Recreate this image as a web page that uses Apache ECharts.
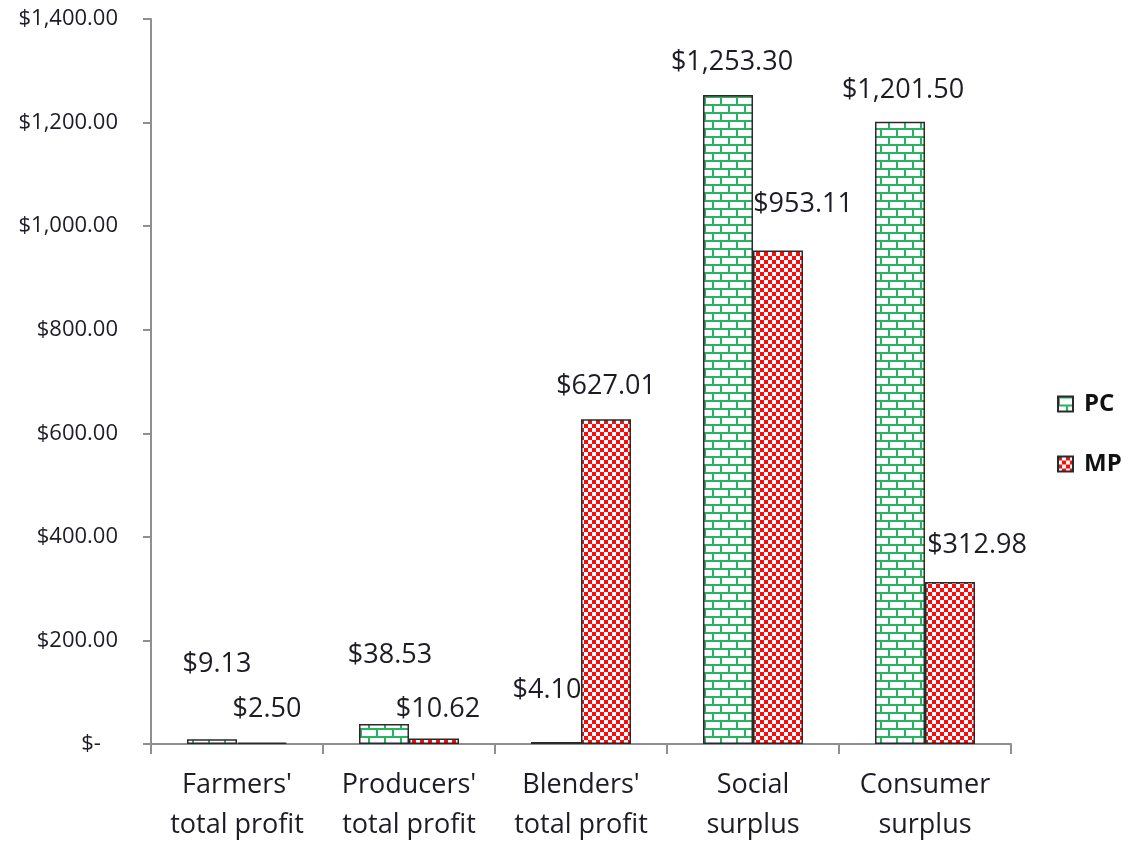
<!DOCTYPE html>
<html>
<head>
<meta charset="utf-8">
<title>PC vs MP welfare outcomes</title>
<script src="https://cdn.jsdelivr.net/npm/echarts@6/dist/echarts.min.js"></script>
<style>
  html, body { margin: 0; padding: 0; background: #fff; }
  #chart { width: 1135px; height: 845px; }
</style>
</head>
<body>
<div id="chart"></div>
<script>
// Categories and values (US dollars)
const categories = [
  "Farmers'\ntotal profit",
  "Producers'\ntotal profit",
  "Blenders'\ntotal profit",
  "Social\nsurplus",
  "Consumer\nsurplus"
];
const pcValues = [9.13, 38.53, 4.10, 1253.30, 1201.50];
const mpValues = [2.50, 10.62, 627.01, 953.11, 312.98];
const yTicks = { min: 0, max: 1400, interval: 200 };

// Hand-placed value label offsets [dx, dy] from the top centre of each bar
const pcLabelOffsets = [[5, -75], [6, -69], [-9, -52], [4, -33], [3, -31]];
const mpLabelOffsets = [[5, -33], [4, -29], [0, -33], [25, -46], [27, -37]];

const FONT = '"Open Sans", Lato, "Liberation Sans", sans-serif';
const TEXT = '#1c1c24';

// Green brick fill
function brickPattern() {
  const c = document.createElement('canvas');
  c.width = 16; c.height = 16;
  const g = c.getContext('2d');
  g.fillStyle = '#ffffff';
  g.fillRect(0, 0, 16, 16);
  g.fillStyle = '#27b35f';
  g.fillRect(0, 0, 16, 2);
  g.fillRect(0, 8, 16, 2);
  g.fillRect(0, 0, 2, 8);
  g.fillRect(8, 8, 2, 8);
  return c;
}

// Red checkerboard fill
function checkerPattern() {
  const c = document.createElement('canvas');
  c.width = 8; c.height = 8;
  const g = c.getContext('2d');
  g.fillStyle = '#ffffff';
  g.fillRect(0, 0, 8, 8);
  g.fillStyle = '#ff0a0a';
  g.fillRect(0, 0, 4, 4);
  g.fillRect(4, 4, 4, 4);
  return c;
}

function money(v) {
  return '$' + v.toLocaleString('en-US', { minimumFractionDigits: 2, maximumFractionDigits: 2 });
}

function withLabels(values, offsets) {
  return values.map((v, i) => ({ value: v, label: { offset: offsets[i] } }));
}

const barLabel = {
  show: true,
  position: 'top',
  distance: 0,
  verticalAlign: 'middle',
  align: 'center',
  fontFamily: FONT,
  fontSize: 27,
  color: TEXT,
  formatter: p => money(p.value)
};

const chart = echarts.init(document.getElementById('chart'), null, { renderer: 'canvas' });

chart.setOption({
  animation: false,
  backgroundColor: '#ffffff',
  grid: { left: 151, right: 124, top: 19, bottom: 98, containLabel: false },
  legend: {
    orient: 'vertical',
    left: 1052,
    top: 387,
    itemWidth: 15,
    itemHeight: 15,
    itemGap: 36,
    icon: 'rect',
    textStyle: {
      fontFamily: FONT, fontSize: 24, fontWeight: 'bold', color: '#111',
      lineHeight: 18, padding: [0, 0, 0, 6]
    },
    data: ['PC', 'MP']
  },
  xAxis: {
    type: 'category',
    data: categories,
    axisLine: { lineStyle: { color: '#8f8f8f', width: 2 } },
    axisTick: { show: true, length: 10, lineStyle: { color: '#8f8f8f', width: 2 } },
    axisLabel: {
      margin: 21,
      fontFamily: FONT,
      fontSize: 27,
      lineHeight: 40,
      color: TEXT,
      interval: 0
    },
    splitLine: { show: false }
  },
  yAxis: {
    type: 'value',
    min: yTicks.min,
    max: yTicks.max,
    interval: yTicks.interval,
    axisLine: { show: true, lineStyle: { color: '#8f8f8f', width: 2 } },
    axisTick: { show: true, length: 8, lineStyle: { color: '#8f8f8f', width: 2 } },
    splitLine: { show: false },
    axisLabel: {
      margin: 33,
      fontFamily: FONT,
      fontSize: 22,
      color: TEXT,
      formatter: v => (v === 0 ? '$-   ' : money(v))
    }
  },
  series: [
    {
      name: 'PC',
      type: 'bar',
      barWidth: 50,
      barGap: '0%',
      data: withLabels(pcValues, pcLabelOffsets),
      itemStyle: {
        color: { image: brickPattern(), repeat: 'repeat' },
        borderColor: '#2a2a2a',
        borderWidth: 1.5
      },
      label: barLabel
    },
    {
      name: 'MP',
      type: 'bar',
      barWidth: 50,
      barGap: '0%',
      data: withLabels(mpValues, mpLabelOffsets),
      itemStyle: {
        color: { image: checkerPattern(), repeat: 'repeat' },
        borderColor: '#2a2a2a',
        borderWidth: 1.5
      },
      label: barLabel
    }
  ]
});
</script>
</body>
</html>
